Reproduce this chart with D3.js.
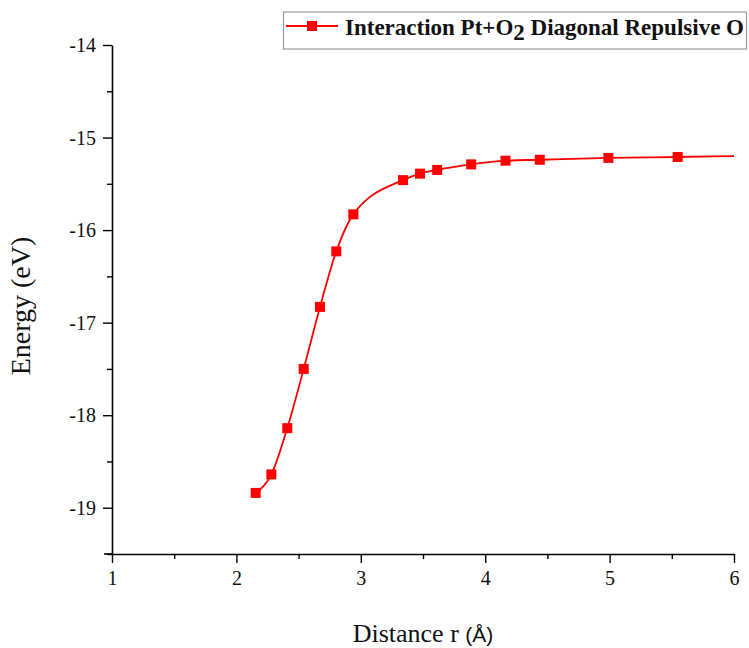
<!DOCTYPE html>
<html>
<head>
<meta charset="utf-8">
<script src="https://cdn.jsdelivr.net/npm/d3@7"></script>
<style>
  body { margin: 0; background: #fff; }
</style>
</head>
<body>
<svg id="chart" width="749" height="648" font-family="Liberation Serif"></svg>
<script>
// data
var distance = [2.155, 2.281, 2.409, 2.541, 2.672, 2.803, 2.940, 3.339, 3.476, 3.614, 3.887, 4.163, 4.439, 4.990, 5.547];
var energy   = [-18.84, -18.64, -18.14, -17.50, -16.83, -16.23, -15.83, -15.46, -15.39, -15.35, -15.29, -15.25, -15.24, -15.22, -15.21];

// fitted curve tail, runs to the axis end
var tailDistance = [6.0];
var tailEnergy   = [-15.20];

var xTicks = [1, 2, 3, 4, 5, 6];
var yTicks = [-19, -18, -17, -16, -15, -14];

var svg = d3.select("svg#chart");

var x = d3.scaleLinear().domain([1, 6]).range([112, 734]);
var y = d3.scaleLinear().domain([-19.5, -14]).range([554, 45]);

var points = distance.map((d, i) => ({ x: d, y: energy[i] }));
var curvePts = points.concat(tailDistance.map((d, i) => ({ x: d, y: tailEnergy[i] })));

var fmt = d => String(d);  // plain hyphen minus like the original

// axes
var xMinor = d3.range(1.5, 6, 1);
var yMinor = d3.range(-19.5, -14, 1);

svg.append("g")
  .attr("transform", "translate(0,554)")
  .call(d3.axisBottom(x).tickValues(xMinor).tickSize(5).tickFormat(""))
  .call(g => g.select(".domain").remove());

svg.append("g")
  .attr("class", "xaxis")
  .attr("transform", "translate(0,554)")
  .call(d3.axisBottom(x).tickValues(xTicks).tickSize(9).tickSizeOuter(0).tickFormat(fmt));

svg.append("g")
  .attr("transform", "translate(112,0)")
  .call(d3.axisLeft(y).tickValues(yMinor).tickSize(5).tickFormat(""))
  .call(g => g.select(".domain").remove());

svg.append("g")
  .attr("class", "yaxis")
  .attr("transform", "translate(112,0)")
  .call(d3.axisLeft(y).tickValues(yTicks).tickSize(9).tickSizeOuter(0).tickFormat(fmt));

svg.selectAll("g path.domain")
  .attr("stroke", "#000")
  .attr("stroke-width", 1.6);
svg.append("line")
  .attr("x1", 104).attr("x2", 112)
  .attr("y1", 554).attr("y2", 554)
  .attr("stroke", "#000").attr("stroke-width", 1.6);

svg.selectAll("g .tick line")
  .attr("stroke", "#000")
  .attr("stroke-width", 1.4);

svg.selectAll("g.xaxis, g.yaxis")
  .attr("font-family", "Liberation Serif");

svg.selectAll("g.xaxis .tick text")
  .attr("font-family", "Liberation Serif")
  .attr("font-size", 20)
  .attr("fill", "#111")
  .attr("y", 14)
  .attr("dy", "0.85em");

svg.selectAll("g.yaxis .tick text")
  .attr("font-family", "Liberation Serif")
  .attr("font-size", 20)
  .attr("fill", "#111")
  .attr("x", -16)
  .attr("dy", "0.33em");

// axis titles
svg.append("text")
  .attr("x", 423)
  .attr("y", 642)
  .attr("text-anchor", "middle")
  .attr("font-family", "Liberation Serif")
  .attr("font-size", 26)
  .attr("fill", "#111")
  .text("Distance r ")
  .append("tspan")
  .attr("font-family", "Liberation Sans Narrow, Liberation Sans, sans-serif")
  .attr("font-size", 21)
  .text("(Å)");

svg.append("text")
  .attr("transform", "translate(30,306) rotate(-90)")
  .attr("text-anchor", "middle")
  .attr("font-family", "Liberation Serif")
  .attr("font-size", 28)
  .attr("fill", "#111")
  .text("Energy (eV)");

// curve
var line = d3.line()
  .x(d => x(d.x))
  .y(d => y(d.y))
  .curve(d3.curveMonotoneX);

svg.append("path")
  .datum(curvePts)
  .attr("d", line)
  .attr("fill", "none")
  .attr("stroke", "#ff0000")
  .attr("stroke-width", 1.8);

// markers
var ms = 10;
svg.selectAll("rect.marker")
  .data(points)
  .enter().append("rect")
  .attr("class", "marker")
  .attr("x", d => x(d.x) - ms / 2)
  .attr("y", d => y(d.y) - ms / 2)
  .attr("width", ms)
  .attr("height", ms)
  .attr("fill", "#ff0000");

// legend
var legend = svg.append("g");
legend.append("rect")
  .attr("x", 283.5).attr("y", 12)
  .attr("width", 463).attr("height", 37)
  .attr("fill", "#fff")
  .attr("stroke", "#999")
  .attr("stroke-width", 1.2);
legend.append("line")
  .attr("x1", 286).attr("x2", 338)
  .attr("y1", 26).attr("y2", 26)
  .attr("stroke", "#ff0000").attr("stroke-width", 1.8);
legend.append("rect")
  .attr("x", 307).attr("y", 21)
  .attr("width", 10).attr("height", 10)
  .attr("fill", "#ff0000");

var lt = legend.append("text")
  .attr("x", 345)
  .attr("y", 35)
  .attr("font-family", "Liberation Serif")
  .attr("font-size", 23)
  .attr("font-weight", "bold")
  .attr("fill", "#111");
lt.append("tspan").text("Interaction Pt+O");
lt.append("tspan").attr("dy", 5).text("2");
lt.append("tspan").attr("dy", -5).text(" Diagonal Repulsive O");
</script>
</body>
</html>
